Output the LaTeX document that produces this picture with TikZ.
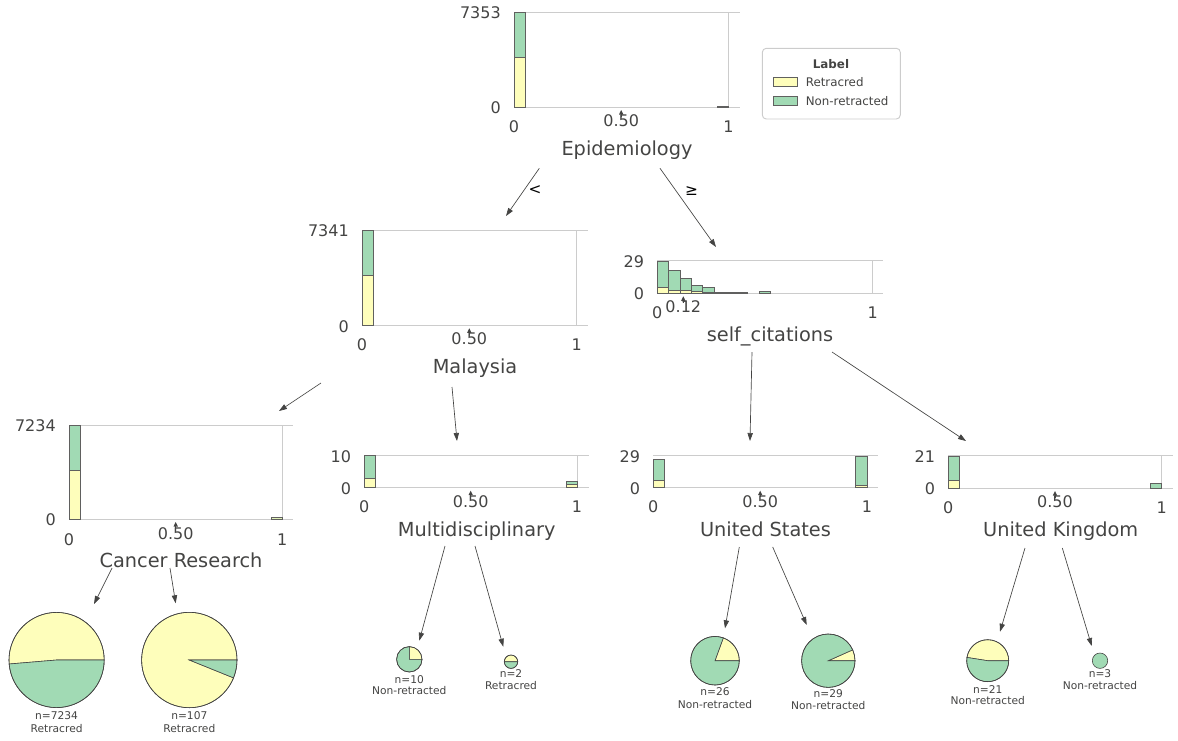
\documentclass[tikz,border=0pt]{standalone}
\usepackage{fontspec}
\setmainfont{DejaVu Sans}
\usetikzlibrary{arrows.meta}
\definecolor{dtyel}{HTML}{FEFEBB}
\definecolor{dtgrn}{HTML}{A1DAB4}
\definecolor{dtgry}{HTML}{444443}
\definecolor{axgry}{HTML}{CCCCCC}
\tikzset{
  ticklab/.style={text=dtgry, font=\fontsize{12}{14}\selectfont, inner sep=0pt},
  axlab/.style={text=dtgry, font=\fontsize{14.5}{17}\selectfont, inner sep=0pt, anchor=base},
  leaflab/.style={text=dtgry, font=\fontsize{8}{9.5}\selectfont, inner sep=0pt},
  leglab/.style={text=dtgry, font=\fontsize{8.9}{10}\selectfont, inner sep=0pt},
  edgelab/.style={text=black, font=\fontsize{11.5}{14}\selectfont, inner sep=0pt},
  barbox/.style={draw=dtgry!85, line width=0.45pt},
  axline/.style={draw=axgry, line width=0.7pt},
  treeedge/.style={draw=dtgry, line width=0.5pt, -{Triangle[length=6pt,width=4pt]}},
  piering/.style={circle, draw=dtgry, line width=0.45pt, inner sep=0pt},
}
% frame: x0, x1, xend, ytop, ybot
\newcommand\chartframe[5]{%
  \draw[axline] (#1,#4) -- (#3,#4);
  \draw[axline] (#1,#5) -- (#3,#5);
  \draw[axline] (#2,#4) -- (#2,#5);
}
% bar segment: x0, x1, ytop, ybot, colour
\newcommand\barseg[5]{\filldraw[barbox, fill=#5] (#1,#3) rectangle (#2,#4);}
% split marker at x, axis bottom y
\newcommand\splitmark[2]{%
  \fill[dtgry] ({#1},{#2+3}) -- ({#1-2.2},{#2+7.5}) -- ({#1+2.2},{#2+7.5}) -- cycle;
  \draw[dtgry, line width=0.6pt] ({#1},{#2+6}) -- ({#1},{#2+9.5});
}
% pie segment: cx, cy, r, a1, a2 (screen angles, ccw), colour
\newcommand\pieseg[6]{%
  \filldraw[fill=#6, draw=dtgry, line width=0.45pt] (#1,#2) -- ++({-#4}:#3)
    arc[start angle={-#4}, end angle={-#5}, radius=#3] -- cycle;
}
\begin{document}
\begin{tikzpicture}[x=0.75pt, y=-0.75pt]
\useasboundingbox (0,0) rectangle (1178,740);

% ---------------- root: Epidemiology
\chartframe{514}{728.5}{740}{12.3}{107}
\barseg{514}{525}{57.7}{107}{dtyel}
\barseg{514}{525}{12.3}{57.7}{dtgrn}
\barseg{717.7}{728.3}{105.8}{107}{dtgrn}
\node[ticklab, anchor=east] (r-ymax) at (501,13) {7353};
\node[ticklab, anchor=east] (r-ymin) at (501,108) {0};
\node[ticklab] (r-x0) at (514,127) {0};
\node[ticklab] (r-xs) at (621.2,121) {0.50};
\node[ticklab] (r-x1) at (728.5,127) {1};
\splitmark{621.2}{107}
\node[axlab] (root) at (627,155.3) {Epidemiology};

% ---------------- legend
\draw[draw=axgry, line width=0.7pt, rounded corners=3pt, fill=white] (762.3,48.3) rectangle (900.3,119);
\node[leglab, font=\fontsize{8.9}{10}\selectfont\bfseries] (leg-title) at (831,64) {Label};
\filldraw[barbox, fill=dtyel] (773.3,77.7) rectangle (797,86.7);
\node[leglab, anchor=west] (leg-ret) at (805.5,82.3) {Retracred};
\filldraw[barbox, fill=dtgrn] (773.3,96.3) rectangle (797,105.3);
\node[leglab, anchor=west] (leg-non) at (805.5,101) {Non-retracted};

% ---------------- Malaysia
\chartframe{362}{576.7}{588}{230}{325.3}
\barseg{362}{373}{275.3}{325.3}{dtyel}
\barseg{362}{373}{230}{275.3}{dtgrn}
\node[ticklab, anchor=east] (m-ymax) at (349,231) {7341};
\node[ticklab, anchor=east] (m-ymin) at (349,326.3) {0};
\node[ticklab] (m-x0) at (362,345) {0};
\node[ticklab] (m-xs) at (469.3,339) {0.50};
\node[ticklab] (m-x1) at (576.7,345) {1};
\splitmark{469.3}{325.3}
\node[axlab] (malaysia) at (475,373.5) {Malaysia};

% ---------------- self_citations
\chartframe{657.3}{872.7}{883}{260.7}{293.3}
\barseg{657.3}{668.6}{261}{287.3}{dtgrn}
\barseg{657.3}{668.6}{287.3}{293.3}{dtyel}
\barseg{668.6}{679.9}{270}{290.3}{dtgrn}
\barseg{668.6}{679.9}{290.3}{293.3}{dtyel}
\barseg{679.9}{691.2}{278.3}{290}{dtgrn}
\barseg{679.9}{691.2}{290}{293.3}{dtyel}
\barseg{691.2}{702.5}{285.3}{291.3}{dtgrn}
\barseg{691.2}{702.5}{291.3}{293.3}{dtyel}
\barseg{702.5}{713.8}{287.3}{292.3}{dtgrn}
\barseg{702.5}{713.8}{292.3}{293.3}{dtyel}
\barseg{713.8}{725.1}{292.2}{293.3}{dtgrn}
\barseg{725.1}{736.4}{292.2}{293.3}{dtgrn}
\barseg{736.4}{747.7}{292.2}{293.3}{dtgrn}
\barseg{759.0}{770.3}{291.3}{293.3}{dtgrn}
\node[ticklab, anchor=east] (s-ymax) at (644.3,261.5) {29};
\node[ticklab, anchor=east] (s-ymin) at (644.3,294) {0};
\node[ticklab] (s-x0) at (657.3,313) {0};
\node[ticklab] (s-xs) at (683.3,307) {0.12};
\node[ticklab] (s-x1) at (872.7,313) {1};
\splitmark{683.3}{293.3}
\node[axlab] (selfcit) at (770,341.5) {self\_citations};

% ---------------- Cancer Research
\chartframe{69}{282.3}{292.7}{425}{519}
\barseg{69}{80}{470.7}{519}{dtyel}
\barseg{69}{80}{425}{470.7}{dtgrn}
\barseg{271.3}{282.3}{517.5}{519}{dtyel!70!dtgrn}
\node[ticklab, anchor=east] (c-ymax) at (56,426) {7234};
\node[ticklab, anchor=east] (c-ymin) at (56,520) {0};
\node[ticklab] (c-x0) at (69,539.3) {0};
\node[ticklab] (c-xs) at (175.7,533.3) {0.50};
\node[ticklab] (c-x1) at (282.3,539.3) {1};
\splitmark{175.7}{519}
\node[axlab] (cancer) at (181,567.2) {Cancer Research};

% ---------------- Multidisciplinary
\chartframe{364.3}{577}{589}{455.7}{487.7}
\barseg{364.3}{375.3}{478.7}{487.7}{dtyel}
\barseg{364.3}{375.3}{455.7}{478.7}{dtgrn}
\barseg{566}{577}{484.5}{487.7}{dtyel}
\barseg{566}{577}{481.3}{484.5}{dtgrn}
\node[ticklab, anchor=east] (mu-ymax) at (351.3,457) {10};
\node[ticklab, anchor=east] (mu-ymin) at (351.3,488.5) {0};
\node[ticklab] (mu-x0) at (364.3,507) {0};
\node[ticklab] (mu-xs) at (470.7,501.7) {0.50};
\node[ticklab] (mu-x1) at (577,507) {1};
\splitmark{470.7}{487.7}
\node[axlab] (multi) at (476.7,536.2) {Multidisciplinary};

% ---------------- United States
\chartframe{653.3}{867}{877.7}{455.7}{487.7}
\barseg{653.3}{664.3}{480.7}{487.7}{dtyel}
\barseg{653.3}{664.3}{459.7}{480.7}{dtgrn}
\barseg{855.7}{867}{485.5}{487.7}{dtyel}
\barseg{855.7}{867}{456}{485.5}{dtgrn}
\node[ticklab, anchor=east] (us-ymax) at (640.3,456.5) {29};
\node[ticklab, anchor=east] (us-ymin) at (640.3,488.5) {0};
\node[ticklab] (us-x0) at (653.3,507) {0};
\node[ticklab] (us-xs) at (760.2,501.7) {0.50};
\node[ticklab] (us-x1) at (867,507) {1};
\splitmark{760.2}{487.7}
\node[axlab] (us) at (765.5,536.2) {United States};

% ---------------- United Kingdom
\chartframe{948.3}{1161.7}{1173}{455.7}{488}
\barseg{948.3}{959.3}{480.7}{488}{dtyel}
\barseg{948.3}{959.3}{456}{480.7}{dtgrn}
\barseg{1150.7}{1161.7}{483.3}{488}{dtgrn}
\node[ticklab, anchor=east] (uk-ymax) at (935.3,456.5) {21};
\node[ticklab, anchor=east] (uk-ymin) at (935.3,488.5) {0};
\node[ticklab] (uk-x0) at (948.3,507.5) {0};
\node[ticklab] (uk-xs) at (1055,502) {0.50};
\node[ticklab] (uk-x1) at (1161.7,507.5) {1};
\splitmark{1055}{488}
\node[axlab] (uk) at (1060.7,536.5) {United Kingdom};

% ---------------- leaves
\pieseg{56.6}{660}{47.6}{0}{184.8}{dtyel}
\pieseg{56.6}{660}{47.6}{184.8}{360}{dtgrn}
\node[piering, minimum size=71.4pt] (leaf1) at (56.6,660) {};
\node[leaflab] (leaf1-n) at (56.6,716) {n=7234};
\node[leaflab] (leaf1-c) at (56.6,728.3) {Retracred};

\pieseg{189.3}{660}{47.7}{0}{338}{dtyel}
\pieseg{189.3}{660}{47.7}{338}{360}{dtgrn}
\node[piering, minimum size=71.55pt] (leaf2) at (189.3,660) {};
\node[leaflab] (leaf2-n) at (189.3,716) {n=107};
\node[leaflab] (leaf2-c) at (189.3,728.3) {Retracred};

\pieseg{409.3}{659.3}{12.7}{0}{90}{dtyel}
\pieseg{409.3}{659.3}{12.7}{90}{360}{dtgrn}
\node[piering, minimum size=19.05pt] (leaf3) at (409.3,659.3) {};
\node[leaflab] (leaf3-n) at (409.3,679.5) {n=10};
\node[leaflab] (leaf3-c) at (409.3,691) {Non-retracted};

\pieseg{511}{661.7}{6.7}{0}{180}{dtyel}
\pieseg{511}{661.7}{6.7}{180}{360}{dtgrn}
\node[piering, minimum size=10.05pt] (leaf4) at (511,661.7) {};
\node[leaflab] (leaf4-n) at (511,673.3) {n=2};
\node[leaflab] (leaf4-c) at (511,685.7) {Retracred};

\pieseg{715}{660.7}{24.3}{0}{70}{dtyel}
\pieseg{715}{660.7}{24.3}{70}{360}{dtgrn}
\node[piering, minimum size=36.45pt] (leaf5) at (715,660.7) {};
\node[leaflab] (leaf5-n) at (715,691.7) {n=26};
\node[leaflab] (leaf5-c) at (715,704.3) {Non-retracted};

\pieseg{828.3}{660.7}{26.7}{0}{24}{dtyel}
\pieseg{828.3}{660.7}{26.7}{24}{360}{dtgrn}
\node[piering, minimum size=40.05pt] (leaf6) at (828.3,660.7) {};
\node[leaflab] (leaf6-n) at (828.3,693.3) {n=29};
\node[leaflab] (leaf6-c) at (828.3,706) {Non-retracted};

\pieseg{987.7}{660.7}{21}{0}{171}{dtyel}
\pieseg{987.7}{660.7}{21}{171}{360}{dtgrn}
\node[piering, minimum size=31.5pt] (leaf7) at (987.7,660.7) {};
\node[leaflab] (leaf7-n) at (987.7,689.3) {n=21};
\node[leaflab] (leaf7-c) at (987.7,700.7) {Non-retracted};

\node[piering, fill=dtgrn, minimum size=11.55pt] (leaf8) at (1100,660.7) {};
\node[leaflab] (leaf8-n) at (1100,673.3) {n=3};
\node[leaflab] (leaf8-c) at (1100,685.7) {Non-retracted};

% ---------------- connector end points
\coordinate (e1s) at (539.3,168.3); \coordinate (e1t) at (506,216);
\coordinate (e2s) at (660,168.3);   \coordinate (e2t) at (716,247);
\coordinate (e3s) at (321,383);     \coordinate (e3t) at (279,411);
\coordinate (e4s) at (452,387);     \coordinate (e4t) at (457,441);
\coordinate (e5s) at (752,352);     \coordinate (e5t) at (750,441);
\coordinate (e6s) at (832,352);     \coordinate (e6t) at (966,441);
\coordinate (e7s) at (112,568);     \coordinate (e7t) at (94,604);
\coordinate (e8s) at (170,568);     \coordinate (e8t) at (175.7,603.3);
\coordinate (e9s) at (445,546);     \coordinate (e9t) at (419.3,640.7);
\coordinate (e10s) at (475,546);    \coordinate (e10t) at (503.3,646.7);
\coordinate (e11s) at (739.3,547);  \coordinate (e11t) at (725,628.3);
\coordinate (e12s) at (772.7,547);  \coordinate (e12t) at (806.7,625);
\coordinate (e13s) at (1025,548);   \coordinate (e13t) at (1000,631.7);
\coordinate (e14s) at (1062.3,548); \coordinate (e14t) at (1091.7,646);

\draw[treeedge] (e1s) -- (e1t);
\draw[treeedge] (e2s) -- (e2t);
\draw[treeedge] (e3s) -- (e3t);
\draw[treeedge] (e4s) -- (e4t);
\draw[treeedge] (e5s) -- (e5t);
\draw[treeedge] (e6s) -- (e6t);
\draw[treeedge] (e7s) -- (e7t);
\draw[treeedge] (e8s) -- (e8t);
\draw[treeedge] (e9s) -- (e9t);
\draw[treeedge] (e10s) -- (e10t);
\draw[treeedge] (e11s) -- (e11t);
\draw[treeedge] (e12s) -- (e12t);
\draw[treeedge] (e13s) -- (e13t);
\draw[treeedge] (e14s) -- (e14t);

\node[edgelab] (lt) at (535,190) {<};
\node[edgelab] (ge) at (691.5,191) {≥};
\end{tikzpicture}
\end{document}
